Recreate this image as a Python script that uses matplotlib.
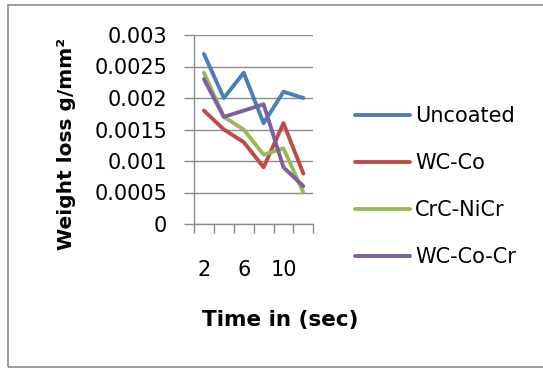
import matplotlib
matplotlib.use("Agg")
import matplotlib.pyplot as plt
from matplotlib.patches import Rectangle

# data
times = ["2", "4", "6", "8", "10", "12"]
uncoated = [0.0027, 0.0020, 0.0024, 0.0016, 0.0021, 0.0020]
wc_co = [0.0018, 0.0015, 0.0013, 0.0009, 0.0016, 0.0008]
crc_nicr = [0.0024, 0.0017, 0.0015, 0.0011, 0.0012, 0.0005]
wc_co_cr = [0.0023, 0.0017, 0.0018, 0.0019, 0.0009, 0.0006]

series = [("Uncoated", uncoated, "#4A7EBB"),
          ("WC-Co", wc_co, "#BE4B48"),
          ("CrC-NiCr", crc_nicr, "#98B954"),
          ("WC-Co-Cr", wc_co_cr, "#7D60A0")]

W, H = 543, 369
fig = plt.figure(figsize=(W / 100, H / 100), dpi=100)
plt.rcParams['font.family'] = 'DejaVu Sans'

# outer chart border (right edge falls outside the image, as in the source)
fig.patches.append(Rectangle((8 / W, 1 - 367 / H), 545 / W, 362 / H,
                             transform=fig.transFigure, fill=False,
                             edgecolor="#8C8C8C", linewidth=1.2))

ax = fig.add_axes([194 / W, 1 - 224 / H, 119.3 / W, 189 / H])
x = list(range(len(times)))
for name, vals, col in series:
    ax.plot(x, vals, color=col, linewidth=2.8, label=name,
            solid_joinstyle="round", solid_capstyle="round")

grid_col = "#8C8C8C"
ax.set_ylim(0, 0.003)
ax.set_xlim(-0.5, len(times) - 0.5)
ax.set_yticks([i * 0.0005 for i in range(7)])
ax.set_yticklabels(["0", "0.0005", "0.001", "0.0015", "0.002", "0.0025", "0.003"])
ax.yaxis.grid(True, color=grid_col, linewidth=1.0)
ax.set_axisbelow(True)

ax.set_xticks([0, 2, 4])
ax.set_xticklabels([times[0], times[2], times[4]])
ax.set_xticks([i - 0.5 for i in range(len(times) + 1)], minor=True)

ax.tick_params(axis="y", length=7.2, width=1.0, color=grid_col, pad=12,
               labelsize=15, labelcolor="black", direction="out")
ax.tick_params(axis="x", which="major", length=0, pad=26, labelsize=15)
ax.tick_params(axis="x", which="minor", length=6.5, width=1.0,
               color=grid_col, direction="out")

for s in ["top", "right"]:
    ax.spines[s].set_visible(False)
for s in ["left", "bottom"]:
    ax.spines[s].set_color(grid_col)
    ax.spines[s].set_linewidth(1.0)

fig.text(66 / W, 1 - 144 / H, "Weight loss g/mm\u00b2", rotation=90,
         ha="center", va="center", fontsize=14.5, fontweight="bold")
fig.text(280 / W, 1 - 320 / H, "Time in (sec)", ha="center", va="center",
         fontsize=15.5, fontweight="bold")

fig.legend(loc="center left", bbox_to_anchor=(355 / W, 1 - 186.5 / H),
           frameon=False, fontsize=15, handlelength=2.64, handletextpad=0.25,
           labelspacing=1.3, borderpad=0, borderaxespad=0)

fig.savefig("out.png", dpi=100)
